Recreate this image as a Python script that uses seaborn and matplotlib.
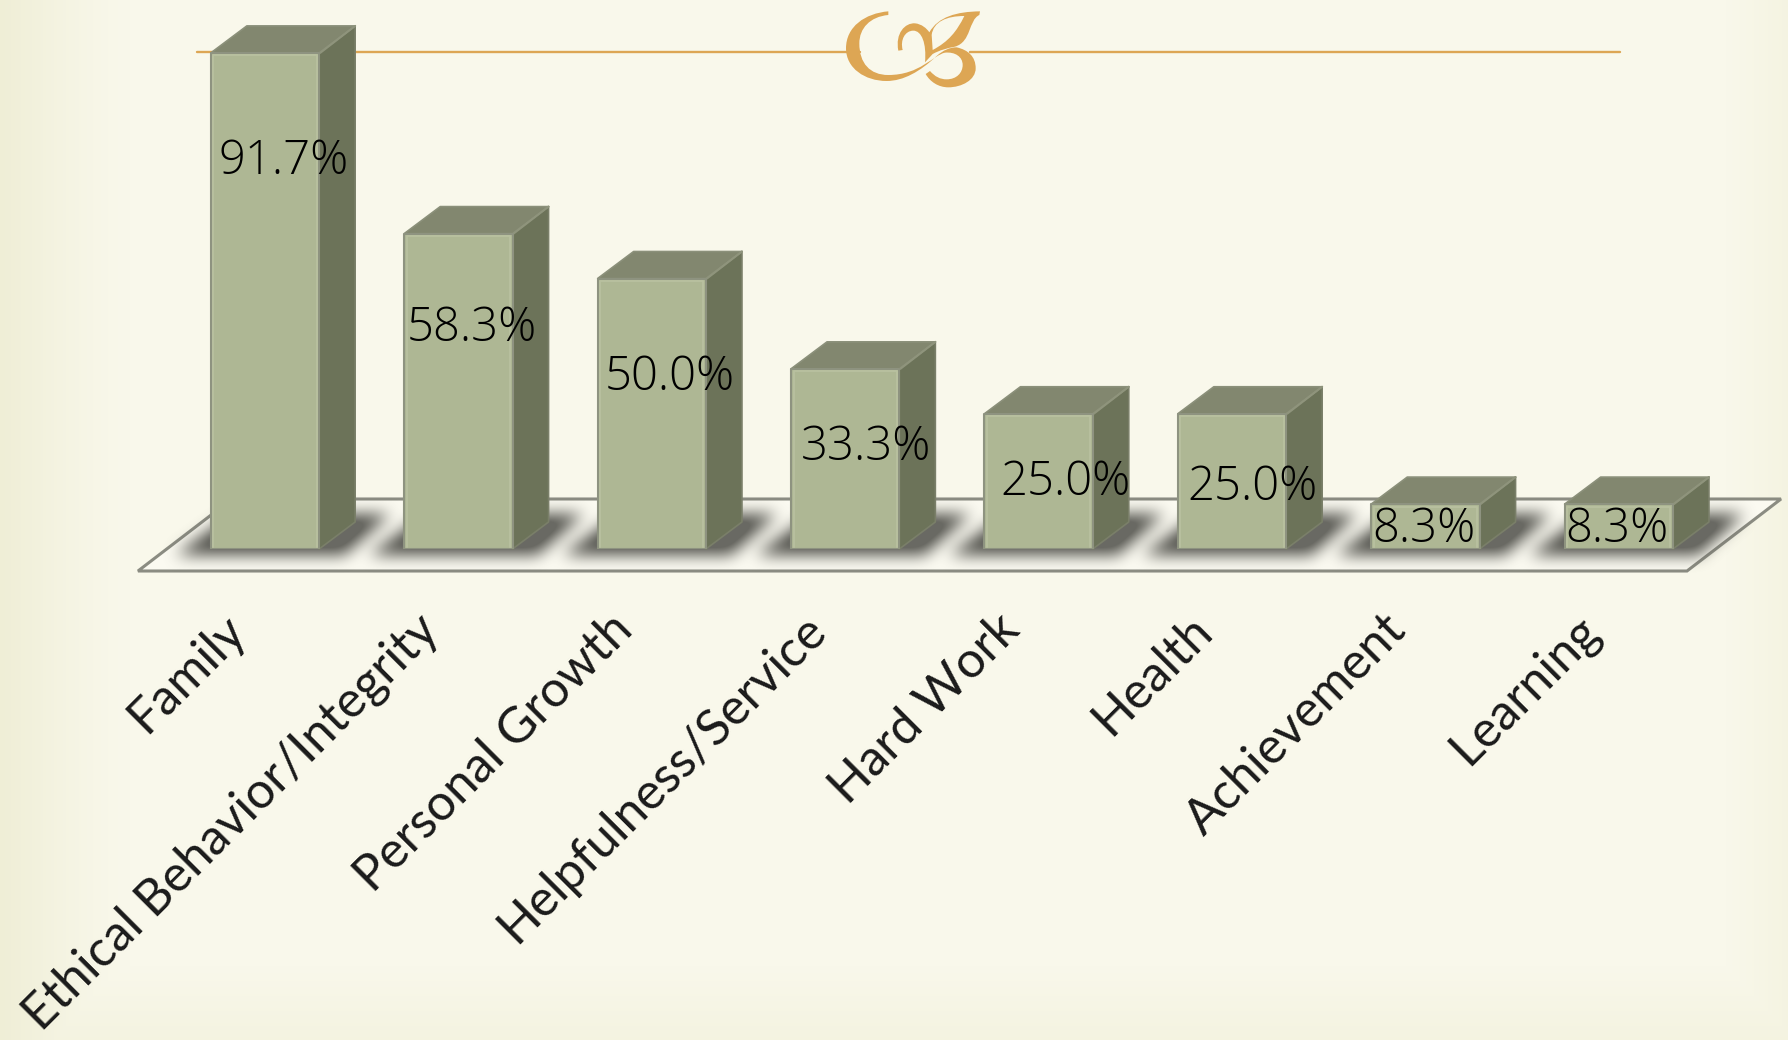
import numpy as np
import pandas as pd
import matplotlib
matplotlib.use('Agg')
import matplotlib.pyplot as plt
from matplotlib.patches import Polygon, PathPatch
from matplotlib.path import Path
from matplotlib.transforms import ScaledTranslation
import seaborn as sns

# values
values = ['Family', 'Ethical Behavior/Integrity', 'Personal Growth', 'Helpfulness/Service',
          'Hard Work', 'Health', 'Achievement', 'Learning']
percent = [91.7, 58.3, 50.0, 33.3, 25.0, 25.0, 8.3, 8.3]
percent_labels = ['91.7%', '58.3%', '50.0%', '33.3%', '25.0%', '25.0%', '8.3%', '8.3%']

# hand placed label nudges in the original, in pixels from bar centre / bar top
label_dx = [19, 13, 18, 21, 27, 20, -2, -2]
label_dy = [-109, -95, -99, -79, -69, -74, -26, -26]

W, H = 1788, 1040
DEPTH_X, DEPTH_Y = 36, 27

sns.set_theme(style='white')
plt.rcParams['font.family'] = ['Lato', 'DejaVu Sans']

fig = plt.figure(figsize=(W / 100, H / 100), dpi=100)

# pixel canvas behind the chart for background, floor, shadows and 3d faces
bg = fig.add_axes([0, 0, 1, 1], zorder=0)

yy, xx = np.mgrid[0:H, 0:W]
edge = np.maximum.reduce([np.clip((130 - xx) / 130, 0, 1) ** 1.3,
                          0.45 * np.clip((xx - 1725) / 63, 0, 1),
                          0.5 * np.clip((yy - 965) / 75, 0, 1)])
base = np.array([249, 248, 235]) / 255
dark = np.array([239, 238, 214]) / 255
back = base + (dark - base) * edge[..., None]
bg.imshow(back, extent=(0, W, H, 0), aspect='auto', zorder=0)

# chart axes, lined up so 100% is 541 px tall
ax = fig.add_axes([168.3 / W, (H - 549) / H, 1547.2 / W, 541 / H], zorder=1)
ax.patch.set_alpha(0)
df = pd.DataFrame({'value': values, 'percent': percent})
sns.barplot(data=df, x='value', y='percent', color='#AEB794', saturation=1, width=0.56,
            edgecolor='#8E9380', linewidth=1.5, ax=ax)
ax.set_xlim(-0.5, 7.5)
ax.set_ylim(0, 100)
ax.set_xlabel('')
ax.set_ylabel('')
ax.set_yticks([])
sns.despine(ax=ax, left=True, bottom=True)
ax.set_xticks(range(len(values)))
ax.set_xticklabels(values, rotation=45, ha='right', va='center', rotation_mode='anchor',
                   fontsize=36, color='#1A1A1A')
ax.tick_params(axis='x', length=0, pad=53)
shift = ScaledTranslation(-27 / 100, 0, fig.dpi_scale_trans)
for lab in ax.get_xticklabels():
    lab.set_transform(lab.get_transform() + shift)


def to_px(x, y):
    px, py = ax.transData.transform((x, y))
    return px, H - py


# floor
bg.add_patch(Polygon([(138, 571), (1687, 571), (1781, 499), (232, 499)], closed=True,
                     facecolor='#FBFAF1', edgecolor='#8B8C82', linewidth=2.2, zorder=1))

# orange rule
bg.plot([197, 860], [52, 52], color='#DDA654', lw=1.7, zorder=1)
bg.plot([970, 1620], [52, 52], color='#DDA654', lw=1.7, zorder=1)

# blurred shadows on the floor
mask = np.zeros((H, W))
bars = list(ax.patches)
for p in bars:
    x0, _ = to_px(p.get_x(), 0)
    x1, _ = to_px(p.get_x() + p.get_width(), 0)
    for y in range(514, 555):
        t = (554 - y) / 40
        mask[y, int(x0 - 34 + 55 * t):int(x1 + 26 + 45 * t)] = 1
kernel = np.ones(15) / 15
for _ in range(3):
    mask = np.apply_along_axis(lambda r: np.convolve(r, kernel, mode='same'), 1, mask)
    mask[480:590] = np.apply_along_axis(lambda c: np.convolve(c, kernel, mode='same'), 0, mask[480:590])
shadow = np.zeros((H, W, 4))
shadow[..., :3] = np.array([92, 92, 86]) / 255
shadow[..., 3] = np.clip(mask * 1.2, 0, 1) * 0.92
bg.imshow(shadow, extent=(0, W, H, 0), aspect='auto', zorder=2)

# side and top faces of each column
for p in bars:
    p.set_joinstyle('round')
    x0, y_top = to_px(p.get_x(), p.get_height())
    x1, y_bot = to_px(p.get_x() + p.get_width(), 0)
    bg.add_patch(Polygon([(x1, y_bot), (x1 + DEPTH_X, y_bot - DEPTH_Y), (x1 + DEPTH_X, y_top - DEPTH_Y), (x1, y_top)],
                         closed=True, facecolor='#6C7359', edgecolor='#7A7F69', linewidth=1.2,
                         joinstyle='round', zorder=3))
    bg.add_patch(Polygon([(x0, y_top), (x0 + DEPTH_X, y_top - DEPTH_Y), (x1 + DEPTH_X, y_top - DEPTH_Y), (x1, y_top)],
                         closed=True, facecolor='#82876F', edgecolor='#8B907A', linewidth=1.2,
                         joinstyle='round', zorder=4))
    bg.plot([x1 + 1, x1 + DEPTH_X], [y_top, y_top - DEPTH_Y], color='#8F947C', lw=1.5, zorder=5)
    # light bevel just inside the front face
    ax.plot([x0 + 2.5, x0 + 2.5, x1 - 2.5, x1 - 2.5], [y_bot - 2, y_top + 2.5, y_top + 2.5, y_bot - 2],
            color='#B8C09F', lw=1.4, transform=bg.transData, clip_on=False)

# monogram, traced in zoom coordinates of the crop at (780, 0) scaled 3x
M, L, C, Z = Path.MOVETO, Path.LINETO, Path.CURVE4, Path.CLOSEPOLY
shape = [
    (M, (325, 34)),
    (C, (255, 40)), (C, (198, 80)), (C, (198, 145)),
    (C, (198, 205)), (C, (255, 243)), (C, (320, 243)),
    (C, (370, 243)), (C, (420, 215)), (C, (470, 168)),
    (C, (490, 150)), (C, (510, 142)), (C, (530, 142)),
    (C, (565, 150)), (C, (587, 170)), (C, (587, 205)),
    (C, (587, 240)), (C, (545, 262)), (C, (505, 262)),
    (C, (475, 262)), (C, (450, 245)), (C, (437, 222)),
    (L, (450, 213)),
    (C, (465, 230)), (C, (480, 238)), (C, (500, 238)),
    (C, (530, 238)), (C, (548, 218)), (C, (548, 195)),
    (C, (548, 170)), (C, (525, 155)), (C, (495, 158)),
    (C, (460, 165)), (C, (420, 225)), (C, (325, 225)),
    (C, (270, 225)), (C, (238, 190)), (C, (238, 130)),
    (C, (238, 85)), (C, (270, 50)), (C, (325, 45)),
    (Z, (325, 34)),
    (M, (355, 152)),
    (C, (345, 100)), (C, (375, 68)), (C, (405, 70)),
    (C, (425, 72)), (C, (440, 85)), (C, (448, 97)),
    (C, (475, 50)), (C, (530, 35)), (C, (600, 34)),
    (L, (598, 45)),
    (C, (565, 60)), (C, (575, 125)), (C, (525, 140)),
    (C, (500, 145)), (C, (480, 150)), (C, (458, 162)),
    (L, (435, 187)),
    (C, (440, 130)), (C, (425, 92)), (C, (400, 92)),
    (C, (375, 92)), (C, (360, 120)), (C, (368, 150)),
    (Z, (355, 152)),
    (M, (553, 48)),
    (C, (500, 48)), (C, (460, 65)), (C, (455, 105)),
    (L, (458, 150)),
    (C, (505, 125)), (C, (530, 95)), (C, (553, 48)),
    (Z, (553, 48)),
]
codes = [c for c, _ in shape]
verts = [(780 + x / 3, y / 3) for _, (x, y) in shape]
bg.add_patch(PathPatch(Path(verts, codes), facecolor='#DDA654', edgecolor='none', zorder=2))

# percent labels sit on the columns
for i, (v, txt) in enumerate(zip(percent, percent_labels)):
    ax.annotate(txt, xy=(i, v), xytext=(label_dx[i] * 0.72, label_dy[i] * 0.72), textcoords='offset points',
                ha='center', va='center', fontsize=34, color='#000000', fontweight='light', family='Open Sans')

ax.set_xlim(-0.5, 7.5)
ax.set_ylim(0, 100)
bg.set_xlim(0, W)
bg.set_ylim(H, 0)
bg.axis('off')

fig.savefig('out.png', dpi=100)
